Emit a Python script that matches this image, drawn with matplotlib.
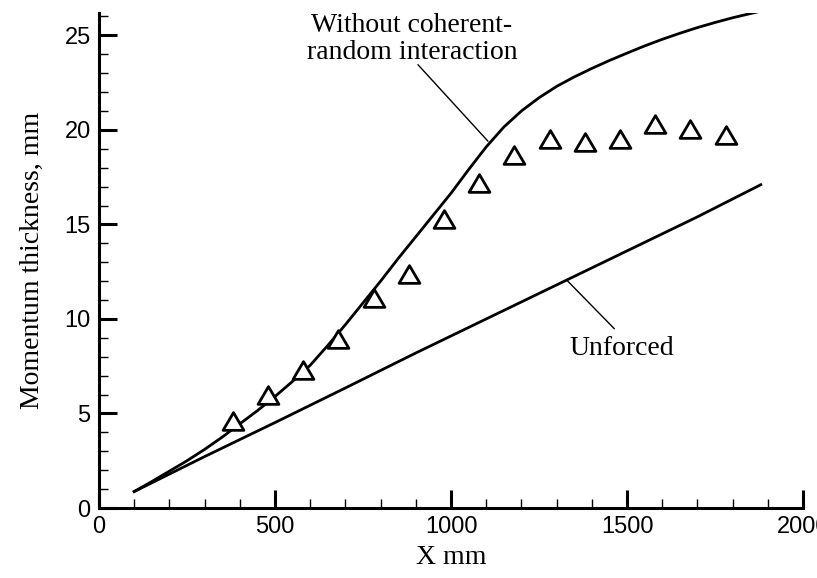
import matplotlib
matplotlib.use('Agg')
import matplotlib.pyplot as plt
from matplotlib.path import Path
from matplotlib.ticker import MultipleLocator

# measured momentum thickness (triangles)
x_meas = [380, 480, 580, 680, 780, 880, 980, 1080, 1180, 1280, 1380, 1480, 1580, 1680, 1780]
y_meas = [4.58, 5.96, 7.28, 8.95, 11.1, 12.4, 15.3, 17.2, 18.67, 19.5, 19.38, 19.52, 20.33, 20.02, 19.73]

# without coherent-random interaction
x_nocr = [100, 150, 200, 250, 300, 350, 400, 450, 500, 550, 600, 650, 700, 750, 800,
          850, 900, 950, 1000, 1050, 1100, 1150, 1200, 1250, 1300, 1350, 1400, 1450,
          1500, 1550, 1600, 1650, 1700, 1750, 1800, 1850, 1880]
y_nocr = [0.87, 1.4, 1.95, 2.5, 3.1, 3.75, 4.45, 5.15, 5.9, 6.7, 7.55, 8.6, 9.7, 10.85, 12.0,
          13.2, 14.35, 15.5, 16.65, 17.9, 19.1, 20.15, 21.0, 21.7, 22.3, 22.8, 23.25, 23.67,
          24.06, 24.44, 24.79, 25.11, 25.41, 25.68, 25.93, 26.15, 26.28]

# unforced
x_unf = [100, 300, 500, 700, 900, 1100, 1300, 1500, 1700, 1880]
y_unf = [0.87, 2.72, 4.52, 6.35, 8.2, 10.0, 11.8, 13.6, 15.4, 17.1]

serif = 'Liberation Serif'
sans = 'Liberation Sans'

fig = plt.figure(figsize=(8.17, 5.78), dpi=100)
ax = fig.add_axes([0.1212, 0.1211, 0.8617, 0.857])

ax.plot(x_nocr, y_nocr, color='black', lw=2.0)
ax.plot(x_unf, y_unf, color='black', lw=2.0)

tri = Path([(-1, -0.85), (1, -0.85), (0, 0.85), (-1, -0.85)], closed=True)
ax.plot(x_meas, y_meas, linestyle='none', marker=tri, ms=15,
        mfc='white', mec='black', mew=2.0)

# labels and leader lines
ax.text(889, 24.8, 'Without coherent-\nrandom interaction', ha='center', va='center',
        fontsize=20, family=serif, linespacing=1.12)
ax.annotate('', xy=(1105, 19.4), xytext=(906, 23.45),
            arrowprops=dict(arrowstyle='-', color='black', lw=1.0, shrinkA=0, shrinkB=0))
ax.text(1486, 8.45, 'Unforced', ha='center', va='center', fontsize=20, family=serif)
ax.annotate('', xy=(1329, 12.05), xytext=(1464, 9.48),
            arrowprops=dict(arrowstyle='-', color='black', lw=1.0, shrinkA=0, shrinkB=0))

ax.set_xlim(0, 2000)
ax.set_ylim(0, 26.2)
ax.xaxis.set_major_locator(MultipleLocator(500))
ax.xaxis.set_minor_locator(MultipleLocator(100))
ax.yaxis.set_major_locator(MultipleLocator(5))
ax.yaxis.set_minor_locator(MultipleLocator(1))

ax.spines['top'].set_visible(False)
ax.spines['right'].set_visible(False)
ax.spines['left'].set_linewidth(2.2)
ax.spines['bottom'].set_linewidth(2.2)

ax.tick_params(which='major', direction='in', length=13, width=2.2, pad=6,
               top=False, right=False)
ax.tick_params(which='minor', direction='in', length=6.5, width=1.0,
               top=False, right=False)
for lbl in ax.get_xticklabels() + ax.get_yticklabels():
    lbl.set_family(sans)
    lbl.set_fontsize(17)

ax.set_xlabel('X mm', fontsize=20, family=serif, labelpad=5)
ax.set_ylabel('Momentum thickness, mm', fontsize=20, family=serif, labelpad=14)

fig.savefig('out.png', dpi=100)
